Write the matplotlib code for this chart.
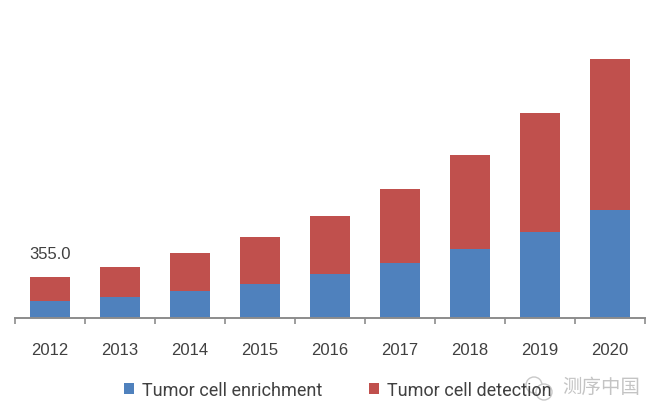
import matplotlib
matplotlib.use('Agg')
import matplotlib.pyplot as plt
from matplotlib.patches import Ellipse, Circle

years = ['2012', '2013', '2014', '2015', '2016', '2017', '2018', '2019', '2020']
enrichment = [147, 182, 234, 294, 381, 476, 598, 745, 935]
detection = [208, 260, 329, 407, 502, 641, 814, 1030, 1308]
first_total = '355.0'

blue = '#4f81bd'
red = '#c0504d'
txt = '#404040'

plt.rcParams['font.family'] = ['Liberation Sans', 'Noto Sans CJK SC', 'DejaVu Sans']

fig = plt.figure(figsize=(6.52, 4.14), dpi=100)
ax = fig.add_axes([15 / 652, 95 / 414, 630 / 652, 289 / 414])

x = list(range(len(years)))
ax.bar(x, enrichment, width=0.57, color=blue, label='Tumor cell enrichment')
ax.bar(x, detection, width=0.57, bottom=enrichment, color=red, label='Tumor cell detection')

ax.set_xlim(-0.5, 8.5)
ax.set_ylim(0, 2503)
ax.set_yticks([])
ax.set_xticks([i - 0.5 for i in range(len(years) + 1)], minor=False)
ax.set_xticklabels([])
ax.tick_params(axis='x', length=4, width=1.2, color='#8c8c8c')
ax.set_xticks(x, years, minor=True)
ax.tick_params(axis='x', which='minor', length=0, pad=17, labelsize=12, labelcolor=txt)
for s in ['top', 'left', 'right']:
    ax.spines[s].set_visible(False)
ax.spines['bottom'].set_color('#8c8c8c')
ax.spines['bottom'].set_linewidth(1.4)

ax.text(0, 355 + 205, first_total, ha='center', va='center', fontsize=12, color=txt, clip_on=False)

leg = fig.legend(loc='center left', bbox_to_anchor=(124 / 652, 1 - 391 / 414), ncol=2, frameon=False,
                 fontsize=13, labelcolor=txt, handlelength=0.55, handleheight=0.55, handletextpad=0.45,
                 columnspacing=2.6, borderpad=0, borderaxespad=0)
for t in leg.get_texts():
    t.set_fontfamily('Roboto')

# watermark in the corner
ov = fig.add_axes([0, 0, 1, 1], facecolor='none')
ov.set_xlim(0, 652)
ov.set_ylim(414, 0)
ov.axis('off')
ov.add_patch(Ellipse((538, 391), 28, 24, fc='white', ec='none', alpha=0.95))
ov.add_patch(Circle((534, 386), 8, fc='white', ec='#c8c8c8', lw=1))
ov.add_patch(Circle((544, 393), 8, fc='white', ec='#c8c8c8', lw=1))
ov.text(562, 387, '测序中国', ha='left', va='center', fontsize=14, color='#c4c4c4',
        family=['Noto Sans CJK SC', 'DejaVu Sans'])

fig.savefig('out.png', dpi=100)
